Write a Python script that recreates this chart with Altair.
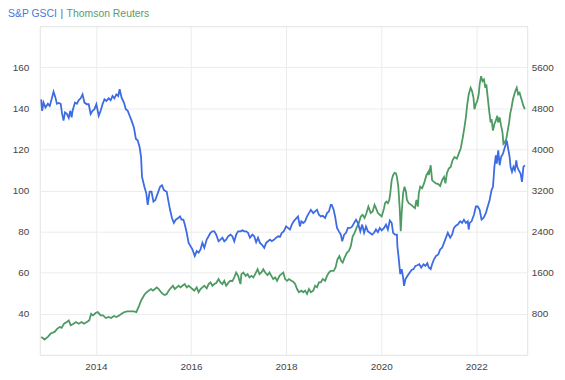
import altair as alt
import pandas as pd

# S&P GSCI (left axis) - decimal year / index value
blue_year = [
    2012.85, 2012.87, 2012.90, 2012.94, 2012.99, 2013.03, 2013.07, 2013.11, 2013.15, 2013.18,
    2013.22, 2013.26, 2013.29, 2013.32, 2013.35, 2013.39, 2013.43, 2013.46, 2013.49, 2013.51,
    2013.56, 2013.60, 2013.64, 2013.68, 2013.72, 2013.76, 2013.81, 2013.85, 2013.89, 2013.93,
    2013.97, 2014.01, 2014.06, 2014.10, 2014.14, 2014.18, 2014.22, 2014.27, 2014.31, 2014.35,
    2014.39, 2014.43, 2014.47, 2014.50, 2014.54, 2014.59, 2014.63, 2014.67, 2014.71, 2014.75,
    2014.80, 2014.84, 2014.88, 2014.92, 2014.95, 2014.97, 2015.02, 2015.06, 2015.09, 2015.13,
    2015.17, 2015.21, 2015.25, 2015.30, 2015.35, 2015.39, 2015.43, 2015.49, 2015.52, 2015.56,
    2015.60, 2015.64, 2015.68, 2015.73, 2015.77, 2015.80, 2015.84, 2015.87, 2015.91, 2015.95,
    2015.99, 2016.03, 2016.08, 2016.12, 2016.16, 2016.20, 2016.24, 2016.28, 2016.33, 2016.37,
    2016.41, 2016.45, 2016.49, 2016.53, 2016.58, 2016.62, 2016.66, 2016.70, 2016.74, 2016.78,
    2016.83, 2016.87, 2016.91, 2016.95, 2016.99, 2017.04, 2017.08, 2017.12, 2017.16, 2017.20,
    2017.24, 2017.29, 2017.33, 2017.37, 2017.41, 2017.45, 2017.49, 2017.54, 2017.58, 2017.62,
    2017.66, 2017.70, 2017.75, 2017.79, 2017.83, 2017.87, 2017.91, 2017.95, 2018.00, 2018.04,
    2018.08, 2018.12, 2018.16, 2018.20, 2018.25, 2018.29, 2018.32, 2018.36, 2018.40, 2018.44,
    2018.48, 2018.52, 2018.57, 2018.61, 2018.65, 2018.69, 2018.73, 2018.77, 2018.82, 2018.86,
    2018.90, 2018.94, 2018.96, 2019.00, 2019.03, 2019.07, 2019.11, 2019.15, 2019.18, 2019.22,
    2019.26, 2019.30, 2019.35, 2019.39, 2019.43, 2019.47, 2019.51, 2019.56, 2019.60, 2019.64,
    2019.68, 2019.72, 2019.76, 2019.81, 2019.85, 2019.89, 2019.93, 2019.97, 2020.01, 2020.06,
    2020.10, 2020.14, 2020.18, 2020.22, 2020.25, 2020.29, 2020.33, 2020.34, 2020.37, 2020.40,
    2020.43, 2020.46, 2020.48, 2020.51, 2020.55, 2020.60, 2020.64, 2020.68, 2020.72, 2020.76,
    2020.80, 2020.84, 2020.89, 2020.93, 2020.97, 2021.00, 2021.04, 2021.07, 2021.11, 2021.15,
    2021.20, 2021.24, 2021.28, 2021.32, 2021.36, 2021.40, 2021.45, 2021.49, 2021.53, 2021.57,
    2021.61, 2021.66, 2021.70, 2021.74, 2021.78, 2021.82, 2021.84, 2021.86, 2021.90, 2021.95,
    2021.99, 2022.03, 2022.07, 2022.11, 2022.15, 2022.20, 2022.24, 2022.28, 2022.32, 2022.35,
    2022.38, 2022.41, 2022.43, 2022.46, 2022.49, 2022.52, 2022.56, 2022.60, 2022.64, 2022.67,
    2022.70, 2022.72, 2022.75, 2022.78, 2022.81, 2022.84, 2022.86, 2022.89, 2022.93, 2022.96,
    2022.99, 2023.02,
]
blue_value = [
    144.4, 138.8, 142.8, 140.4, 142.2, 141.2, 144.6, 148.1, 145.2, 142.2,
    142.6, 142.2, 137.3, 134.0, 138.0, 137.3, 135.3, 138.8, 135.6, 138.8,
    142.8, 142.2, 144.0, 144.9, 146.8, 142.8, 142.0, 142.0, 137.2, 138.8,
    139.6, 142.0, 136.4, 138.8, 142.0, 144.4, 143.6, 144.9, 144.0, 146.0,
    144.9, 146.8, 146.0, 149.3, 145.2, 142.8, 139.6, 138.8, 136.4, 134.0,
    130.7, 125.2, 124.3, 121.1, 116.3, 106.6, 101.8, 98.6, 93.0, 99.4,
    99.4, 94.6, 95.4, 98.6, 101.8, 102.6, 100.2, 99.4, 95.4, 90.6,
    86.6, 84.2, 85.8, 86.6, 87.4, 85.8, 85.8, 83.4, 79.4, 74.5,
    72.9, 71.3, 68.1, 70.5, 69.7, 71.3, 74.5, 72.1, 76.1, 77.7,
    79.4, 80.1, 80.1, 78.5, 75.3, 76.1, 77.0, 75.3, 76.1, 77.7,
    78.5, 77.7, 75.2, 78.5, 80.1, 80.1, 80.6, 80.1, 80.1, 79.4,
    77.0, 78.5, 77.7, 74.8, 77.0, 74.5, 73.7, 72.1, 74.5, 75.3,
    76.1, 75.3, 76.1, 77.0, 77.7, 77.4, 79.4, 80.1, 82.5, 81.8,
    81.0, 83.4, 85.0, 86.1, 87.4, 82.5, 85.0, 84.2, 85.0, 87.4,
    89.0, 90.6, 89.0, 89.8, 90.6, 88.2, 87.4, 87.7, 86.6, 89.0,
    89.8, 93.0, 93.0, 90.6, 87.4, 81.8, 80.1, 78.5, 75.3, 78.5,
    79.4, 81.8, 81.8, 82.5, 84.2, 85.8, 84.2, 80.1, 83.4, 79.4,
    82.5, 80.1, 79.4, 78.5, 79.4, 81.0, 79.7, 81.8, 80.6, 81.8,
    83.4, 81.0, 85.4, 84.2, 79.4, 78.5, 78.5, 72.9, 66.5, 59.3,
    61.7, 57.7, 53.6, 56.9, 58.4, 60.1, 61.3, 61.7, 63.3, 63.6,
    64.1, 62.5, 64.1, 63.3, 64.6, 62.5, 61.7, 64.1, 66.5, 68.1,
    68.9, 71.3, 72.1, 74.5, 77.0, 79.4, 77.0, 78.5, 81.8, 82.9,
    83.4, 85.0, 84.2, 85.8, 84.2, 85.0, 81.0, 84.2, 85.0, 88.2,
    92.2, 92.2, 90.6, 85.8, 86.6, 89.0, 92.2, 95.4, 100.2, 101.8,
    111.5, 117.1, 113.1, 119.5, 112.3, 116.3, 117.9, 121.1, 124.3, 120.3,
    116.3, 111.5, 109.1, 111.5, 109.9, 114.7, 111.5, 109.9, 108.3, 104.2,
    111.5, 112.3,
]

# Thomson Reuters (right axis) - decimal year / index value
green_year = [
    2012.85, 2012.92, 2012.99, 2013.05, 2013.13, 2013.19, 2013.24, 2013.28, 2013.33, 2013.39,
    2013.43, 2013.47, 2013.53, 2013.58, 2013.64, 2013.70, 2013.75, 2013.81, 2013.86, 2013.90,
    2013.94, 2014.00, 2014.04, 2014.10, 2014.15, 2014.21, 2014.27, 2014.32, 2014.38, 2014.43,
    2014.49, 2014.54, 2014.60, 2014.66, 2014.72, 2014.80, 2014.85, 2014.91, 2014.95, 2014.99,
    2015.03, 2015.07, 2015.11, 2015.16, 2015.20, 2015.24, 2015.28, 2015.32, 2015.37, 2015.41,
    2015.45, 2015.49, 2015.53, 2015.57, 2015.62, 2015.66, 2015.70, 2015.74, 2015.78, 2015.82,
    2015.87, 2015.91, 2015.95, 2015.99, 2016.03, 2016.07, 2016.12, 2016.16, 2016.20, 2016.24,
    2016.28, 2016.33, 2016.37, 2016.41, 2016.45, 2016.49, 2016.53, 2016.58, 2016.62, 2016.66,
    2016.70, 2016.74, 2016.79, 2016.83, 2016.87, 2016.91, 2016.95, 2016.99, 2017.04, 2017.06,
    2017.10, 2017.15, 2017.19, 2017.23, 2017.27, 2017.31, 2017.35, 2017.40, 2017.44, 2017.48,
    2017.52, 2017.56, 2017.61, 2017.65, 2017.69, 2017.73, 2017.77, 2017.81, 2017.86, 2017.90,
    2017.94, 2017.98, 2018.02, 2018.06, 2018.11, 2018.15, 2018.19, 2018.23, 2018.27, 2018.32,
    2018.36, 2018.40, 2018.44, 2018.48, 2018.52, 2018.57, 2018.61, 2018.65, 2018.69, 2018.73,
    2018.77, 2018.82, 2018.86, 2018.90, 2018.94, 2019.00, 2019.04, 2019.08, 2019.12, 2019.16,
    2019.19, 2019.23, 2019.28, 2019.32, 2019.36, 2019.40, 2019.44, 2019.48, 2019.53, 2019.57,
    2019.61, 2019.65, 2019.69, 2019.73, 2019.78, 2019.82, 2019.86, 2019.89, 2019.93, 2019.97,
    2020.01, 2020.06, 2020.08, 2020.11, 2020.14, 2020.17, 2020.19, 2020.22, 2020.25, 2020.28,
    2020.31, 2020.33, 2020.36, 2020.39, 2020.41, 2020.43, 2020.46, 2020.49, 2020.52, 2020.54,
    2020.58, 2020.63, 2020.67, 2020.71, 2020.74, 2020.77, 2020.79, 2020.82, 2020.86, 2020.90,
    2020.95, 2020.99, 2021.00, 2021.04, 2021.07, 2021.11, 2021.15, 2021.20, 2021.24, 2021.28,
    2021.32, 2021.35, 2021.38, 2021.42, 2021.46, 2021.50, 2021.54, 2021.59, 2021.63, 2021.67,
    2021.71, 2021.75, 2021.78, 2021.81, 2021.84, 2021.88, 2021.91, 2021.94, 2021.96, 2021.99,
    2022.02, 2022.05, 2022.07, 2022.10, 2022.13, 2022.16, 2022.19, 2022.21, 2022.24, 2022.27,
    2022.30, 2022.32, 2022.35, 2022.38, 2022.41, 2022.44, 2022.46, 2022.49, 2022.52, 2022.55,
    2022.57, 2022.60, 2022.63, 2022.66, 2022.69, 2022.71, 2022.74, 2022.77, 2022.80, 2022.82,
    2022.85, 2022.88, 2022.91, 2022.94, 2022.96, 2022.99, 2023.02,
]
green_value = [
    350, 298, 350, 414, 446, 510, 543, 524, 606, 639,
    670, 574, 606, 639, 606, 639, 606, 639, 670, 799,
    767, 819, 832, 767, 767, 716, 736, 716, 755, 736,
    767, 799, 832, 844, 844, 844, 832, 959, 1056, 1121,
    1185, 1218, 1249, 1281, 1249, 1281, 1314, 1281, 1218, 1185,
    1166, 1185, 1249, 1295, 1345, 1281, 1314, 1345, 1314, 1345,
    1378, 1314, 1345, 1314, 1281, 1249, 1314, 1218, 1281, 1314,
    1345, 1295, 1378, 1410, 1345, 1378, 1397, 1474, 1410, 1378,
    1441, 1345, 1410, 1441, 1436, 1507, 1603, 1538, 1378, 1570,
    1603, 1538, 1570, 1507, 1538, 1507, 1570, 1667, 1570, 1603,
    1667, 1603, 1551, 1603, 1538, 1474, 1507, 1441, 1538, 1570,
    1603, 1474, 1441, 1474, 1441, 1422, 1378, 1281, 1218, 1249,
    1218, 1249, 1185, 1281, 1218, 1249, 1345, 1314, 1410, 1410,
    1474, 1441, 1538, 1603, 1634, 1634, 1700, 1860, 1923, 1827,
    1796, 1892, 1989, 2020, 2116, 2309, 2374, 2471, 2567, 2694,
    2727, 2664, 2760, 2887, 2760, 2791, 2920, 2856, 2760, 2727,
    2694, 2856, 2953, 2984, 2953, 3016, 3146, 3402, 3498, 3543,
    3531, 3466, 3273, 2824, 2405, 2760, 3146, 3273, 3177, 3016,
    2953, 2920, 2887, 2856, 3016, 2887, 3146, 3273, 3242, 3338,
    3498, 3562, 3498, 3691, 3402, 3369, 3338, 3325, 3286, 3402,
    3466, 3338, 3531, 3628, 3659, 3788, 3851, 3820, 3917, 4013,
    4206, 4430, 4623, 4881, 5074, 5201, 5137, 5008, 4784, 4881,
    4944, 5074, 5266, 5426, 5330, 5363, 5201, 5266, 5008, 4752,
    4526, 4592, 4366, 4495, 4559, 4655, 4526, 4623, 4462, 4333,
    4110, 4141, 4206, 4366, 4526, 4688, 4815, 4977, 5074, 5137,
    5201, 5074, 5105, 5008, 4944, 4848, 4784,
]

title_parts = ["S&P GSCI", "|", "Thomson Reuters"]
left_ticks = [40, 60, 80, 100, 120, 140, 160]
right_ticks = [800, 1600, 2400, 3200, 4000, 4800, 5600]
year_ticks = [2014, 2016, 2018, 2020, 2022]

BLUE = "#3d6be3"
GREEN = "#4e9a63"
title_colors = ["#4a78d8", "#666666", "#5a9c6c"]
title_x = [-32, 21, 27]

df_b = pd.DataFrame({"year": blue_year, "value": blue_value})
df_g = pd.DataFrame({"year": green_year, "value": green_value})

x_enc = alt.X(
    "year:Q",
    scale=alt.Scale(domain=[2012.82, 2023.07], nice=False, zero=False),
    axis=alt.Axis(values=year_ticks, format="d", title=None, grid=True, labelPadding=7),
)

blue = alt.Chart(df_b).mark_line(color=BLUE, strokeWidth=1.8).encode(
    x=x_enc,
    y=alt.Y(
        "value:Q",
        scale=alt.Scale(domain=[20, 180], nice=False, zero=False),
        axis=alt.Axis(values=left_ticks, format="d", title=None, grid=True, orient="left", labelPadding=11),
    ),
)

green = alt.Chart(df_g).mark_line(color=GREEN, strokeWidth=1.8).encode(
    x=x_enc,
    y=alt.Y(
        "value:Q",
        scale=alt.Scale(domain=[0, 6400], nice=False, zero=False),
        axis=alt.Axis(values=right_ticks, format="d", title=None, grid=False, orient="right", labelPadding=4),
    ),
)

texts = []
for part, col, tx in zip(title_parts, title_colors, title_x):
    texts.append(
        alt.Chart(pd.DataFrame({"t": [part]}))
        .mark_text(align="left", baseline="alphabetic", fontSize=10.5, color=col, font="Liberation Sans")
        .encode(x=alt.value(tx), y=alt.value(-9), text="t:N")
    )

chart = (
    alt.layer(green, blue, *texts)
    .resolve_scale(y="independent")
    .properties(
        width=491,
        height=331,
        padding={"left": 32, "top": 17, "right": 30, "bottom": 16},
        autosize=alt.AutoSizeParams(type="none"),
    )
    .configure_view(stroke="#e2e2e2", strokeWidth=1)
    .configure_axis(
        domain=False,
        ticks=False,
        gridColor="#ececec",
        labelColor="#444444",
        labelFont="Liberation Sans",
        labelFontSize=10,
    )
)

chart.save("out.html", embed_options={"renderer": "svg", "actions": False})
